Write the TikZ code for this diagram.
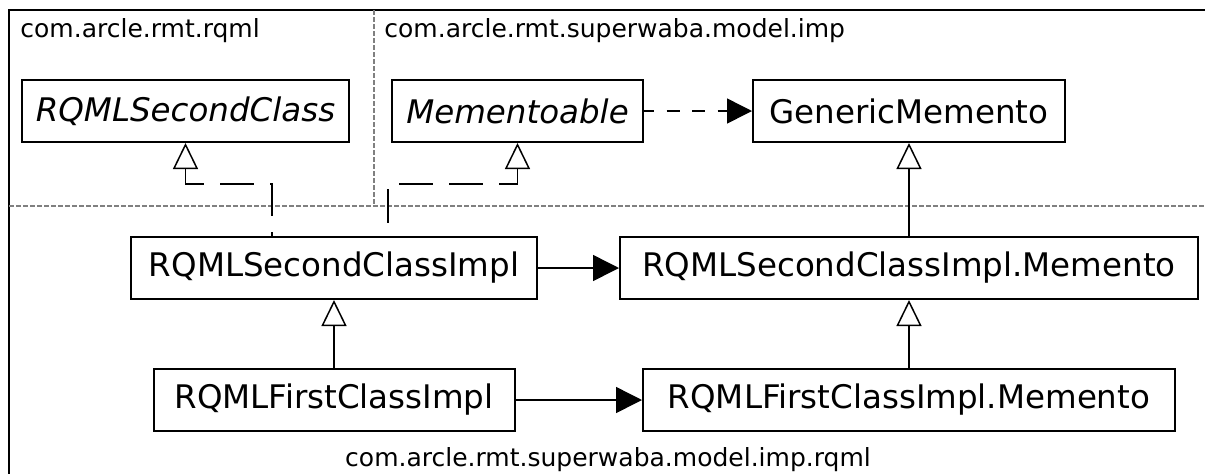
\documentclass[tikz,border=0pt]{standalone}
\usepackage{fontspec}
\setmainfont{DejaVu Sans}
\usetikzlibrary{arrows.meta}

\newcommand{\clsfont}{\fontsize{16.25pt}{19pt}\selectfont}
\newcommand{\pkgfont}{\fontsize{12.5pt}{15pt}\selectfont}

\begin{document}
\begin{tikzpicture}[
  klass/.style={draw, line width=1pt, minimum height=31pt, inner sep=0pt, font=\clsfont},
  pkgname/.style={font=\pkgfont, inner sep=0pt, anchor=base west},
  sep/.style={gray, line width=0.6pt, dash pattern=on 2.5pt off 1pt},
  gen/.style={line width=0.75pt, -{Triangle[open, length=13pt, width=12.5pt]}},
  realize/.style={line width=0.75pt, dash pattern=on 17pt off 8pt, {Triangle[open, length=13pt, width=12.5pt]}-},
  nav/.style={line width=0.75pt, -{Triangle[length=13pt, width=13pt]}},
  dep/.style={line width=0.75pt, dash pattern=on 6.5pt off 6.25pt, dash phase=1.5pt, -{Triangle[length=12.5pt, width=12.5pt]}},
  node distance=66pt]
\useasboundingbox (0,0) rectangle (602.5pt,-236.5pt);

\draw[line width=1pt] (606pt,-5pt) -- (4.5pt,-5pt) -- (4.5pt,-240pt);
\draw[sep] (4.5pt,-103pt) -- (606pt,-103pt);
\draw[sep] (187pt,-5pt) -- (187pt,-103pt);

\node[pkgname] (rqml) at (10pt,-18.5pt) {com.arcle.rmt.rqml};
\node[pkgname] (imp) at (192pt,-18.5pt) {com.arcle.rmt.superwaba.model.imp};
\node[font=\pkgfont, inner sep=0pt, anchor=base] (imprqml) at (304pt,-233pt) {com.arcle.rmt.superwaba.model.imp.rqml};

\node[klass, minimum width=163.5pt, font=\clsfont\itshape] (sec) at (92.75pt,-55.5pt) {RQMLSecondClass};
\node[klass, minimum width=125.5pt, font=\clsfont\itshape] (mem) at (258.75pt,-55.5pt) {Mementoable};
\node[klass, minimum width=203pt] (impl2) at (167pt,-134pt) {RQMLSecondClassImpl};
\node[klass, minimum width=289pt, node distance=287.5pt, right of=impl2] (memo2) {RQMLSecondClassImpl.Memento};
\node[klass, minimum width=156pt, node distance=78.5pt, above of=memo2] (gen) {GenericMemento};
\node[klass, minimum width=180.5pt, below of=impl2] (impl1) {RQMLFirstClassImpl};
\node[klass, minimum width=266pt, below of=memo2] (memo1) {RQMLFirstClassImpl.Memento};

\path (impl2) edge[nav] (memo2)
      (impl1) edge[nav] (memo1)
      (impl1) edge[gen] (impl2)
      (memo1) edge[gen] (memo2)
      (memo2) edge[gen] (gen)
      (mem) edge[dep] (gen);

\coordinate (ka) at ([xshift=-31pt,yshift=26pt]impl2.north);
\coordinate (kb) at ([xshift=27pt,yshift=26pt]impl2.north);
\draw[realize] (sec.south) |- (ka) -- (ka |- impl2.north);
\draw[realize] (mem.south) |- (kb) -- (kb |- impl2.north);
\end{tikzpicture}
\end{document}
